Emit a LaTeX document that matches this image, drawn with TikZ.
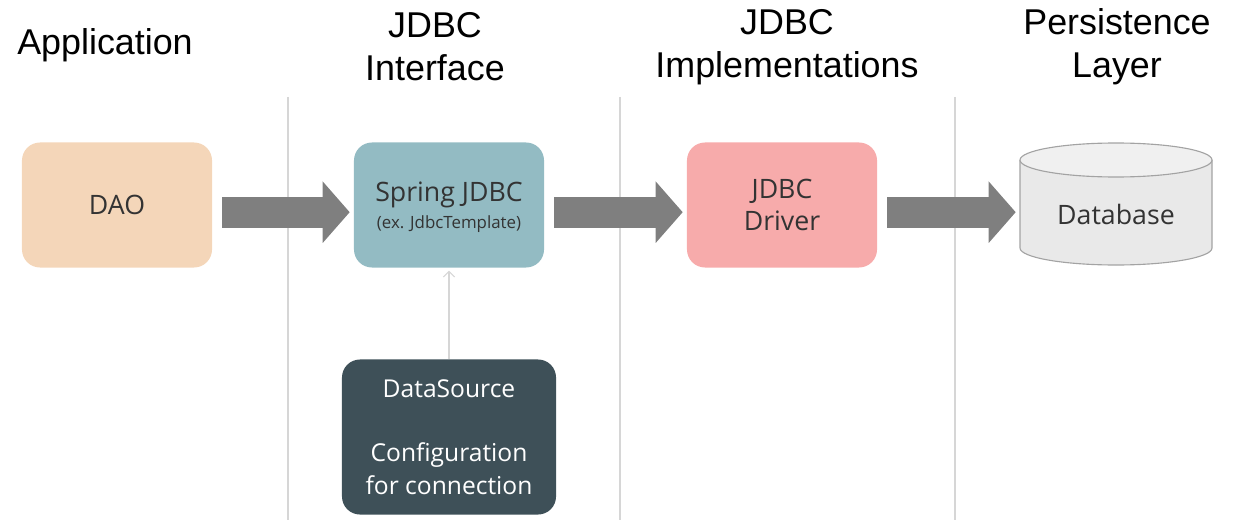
\documentclass[tikz,border=0pt]{standalone}
\usepackage{fontspec}
\setmainfont{Liberation Sans}
\newfontfamily\boxfont{Open Sans}
\usetikzlibrary{arrows.meta}

\definecolor{daofill}{HTML}{F4D6B9}
\definecolor{springfill}{HTML}{93BBC3}
\definecolor{driverfill}{HTML}{F7ABAB}
\definecolor{dsfill}{HTML}{3E5058}
\definecolor{dbfill}{HTML}{E9E9E9}
\definecolor{dbline}{HTML}{A3A3A3}
\definecolor{arrowgray}{HTML}{7F7F7F}
\definecolor{sepgray}{HTML}{D6D6D6}
\definecolor{boxtext}{HTML}{333333}

\tikzset{
  layer/.style={font=\fontsize{25.5}{30.5}\selectfont, align=center, text=black},
  box/.style={rounded corners=0.45cm, minimum width=4.75cm, minimum height=3.125cm,
    align=center, text=boxtext, font=\boxfont\fontsize{19}{23}\selectfont},
  blockarrow/.style={draw=arrowgray, line width=0.775cm,
    -{Triangle[length=0.675cm, width=1.5cm]}, arrowgray,
    shorten <=0.25cm, shorten >=0.1cm},
  thinarrow/.style={draw=sepgray, line width=0.8pt, -{Straight Barb[length=4pt, width=8pt]}},
}

\begin{document}
\begin{tikzpicture}[x=0.025cm, y=-0.025cm]
  \useasboundingbox (0,0) rectangle (1234,531);

  % layer titles
  \node [layer] (app) at (105, 45) {Application};
  \node [layer] (iface) at (435, 47) {JDBC\\Interface};
  \node [layer] (impl) at (787, 47) {JDBC\\Implementations};
  \node [layer] (persist) at (1117, 47) {Persistence\\Layer};

  % separators
  \draw [sepgray, line width=1pt] plot coordinates {(288, 97) (288, 520)};
  \draw [sepgray, line width=1pt] plot coordinates {(620, 97) (620, 520)};
  \draw [sepgray, line width=1pt] plot coordinates {(955, 97) (955, 520)};

  % boxes
  \node [box, fill=daofill] (dao) at (117, 205) {DAO};
  \node [box, fill=springfill, text depth=-8pt] (spring) at (449, 205)
    {Spring JDBC\\[-4pt]{\fontsize{12}{14}\selectfont (ex. JdbcTemplate)}};
  \node [box, fill=driverfill] (driver) at (782, 205) {JDBC\\Driver};
  \node [box, fill=dsfill, text=white, minimum width=5.35cm, minimum height=3.875cm,
    font=\boxfont\fontsize{17.5}{23}\selectfont] (ds) at (449, 437)
    {DataSource\\ \\Configuration\\for connection};

  % database cylinder
  \filldraw [fill=dbfill, draw=dbline, line width=0.8pt]
    (1020, 160) -- (1020, 248) arc [start angle=180, end angle=0, x radius=96, y radius=17]
    -- (1212, 160);
  \filldraw [fill=dbfill!70!white, draw=dbline, line width=0.8pt]
    (1116, 160) ellipse [x radius=96, y radius=17];
  \node [box, minimum width=4.8cm, minimum height=2.4cm] (db) at (1116, 214) {Database};

  % arrows
  \draw [blockarrow] ([yshift=-0.18cm]dao.east) -- ([yshift=-0.18cm]spring.west);
  \draw [blockarrow] ([yshift=-0.18cm]spring.east) -- ([yshift=-0.18cm]driver.west);
  \draw [blockarrow] ([yshift=-0.18cm]driver.east) -- ([yshift=-0.18cm]driver.east -| db.west);
  \draw [thinarrow] (ds.north) -- ([yshift=-2pt]spring.south);
\end{tikzpicture}
\end{document}
